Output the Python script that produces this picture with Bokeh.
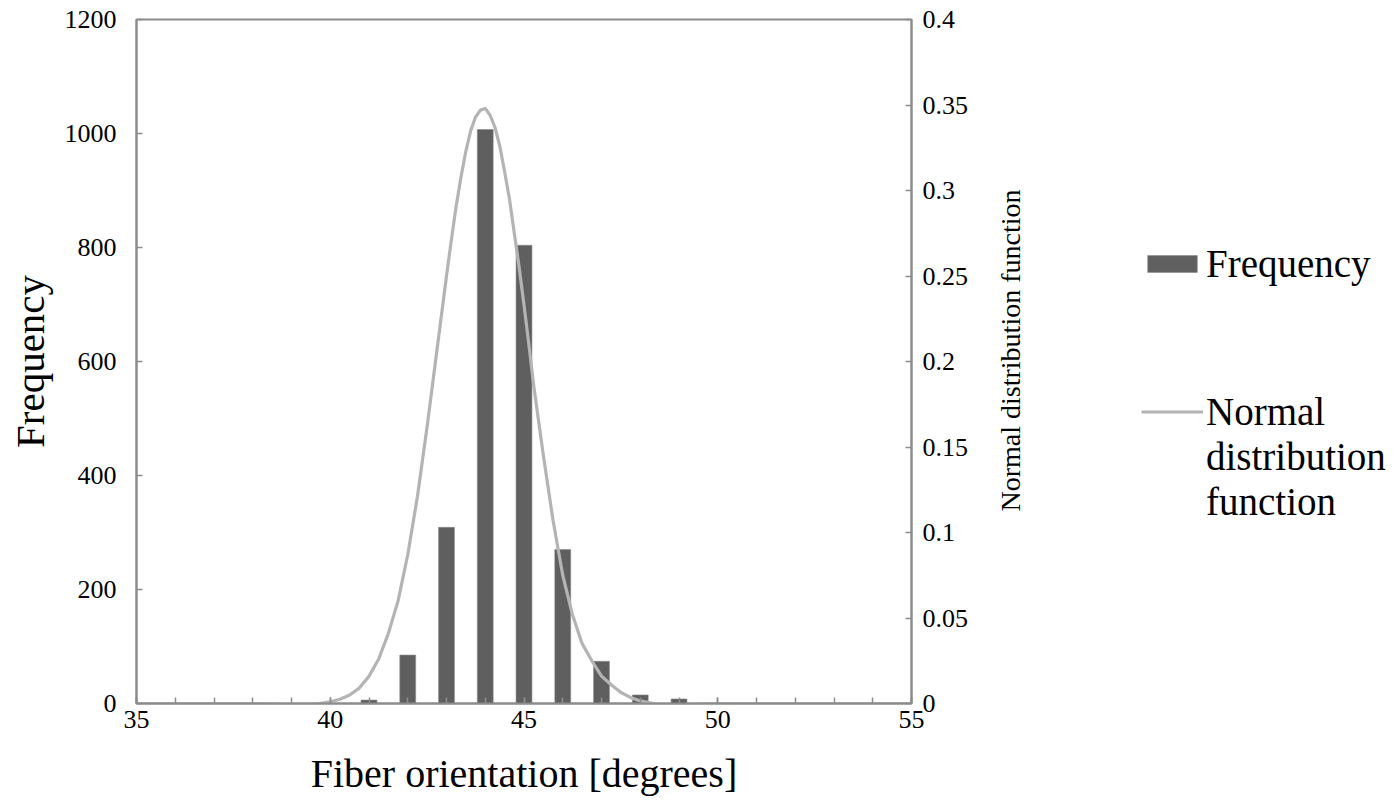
import math
from bokeh.plotting import figure
from bokeh.layouts import row
from bokeh.models import (Range1d, LinearAxis, Legend, LegendItem, SingleIntervalTicker,
                          FixedTicker, NumeralTickFormatter, Label)
from bokeh.embed import file_html
from bokeh.resources import INLINE

# ---- data ----
orientation = [41, 42, 43, 44, 45, 46, 47, 48, 49]
frequency = [6, 85, 309, 1007, 804, 270, 74, 15, 8]

curve_x = [35, 36, 37, 38, 38.5, 39, 39.5, 40, 40.25, 40.5, 40.75, 41, 41.25, 41.5, 41.75,
           42, 42.25, 42.5, 42.75, 42.875, 43, 43.125, 43.25, 43.375, 43.5, 43.625, 43.75,
           43.875, 44, 44.125, 44.25, 44.375, 44.5, 44.625, 44.75, 44.875, 45, 45.125,
           45.25, 45.5, 45.75, 46, 46.25, 46.5, 46.75, 47, 47.25, 47.5, 47.75, 48, 48.5,
           49, 49.5, 50, 51, 52, 53, 54, 55]
curve_y = [0, 0, 0, 0, -0.0003, -0.0008, -0.0008, 0.001, 0.0025, 0.005, 0.009, 0.016,
           0.026, 0.041, 0.060, 0.087, 0.121, 0.162, 0.206, 0.228, 0.250, 0.271, 0.291,
           0.308, 0.323, 0.335, 0.343, 0.347, 0.348, 0.344, 0.337, 0.326, 0.311, 0.295,
           0.275, 0.255, 0.233, 0.210, 0.186, 0.145, 0.107, 0.075, 0.052, 0.035, 0.025,
           0.016, 0.011, 0.0065, 0.0035, 0.0015, -0.0008, -0.0008, -0.0003, 0, 0, 0, 0,
           0, 0]

right_ticks = [0, 0.05, 0.1, 0.15, 0.2, 0.25, 0.3, 0.35, 0.4]

FONT = "Liberation Serif"
AXIS_COLOR = "#8c8c8c"
BAR_FILL = "#5f5f5f"
BAR_LINE = "#8a8a8a"
CURVE_COLOR = "#b4b4b4"

W1 = 990
H = 805
FRAME_TOP = 19
FRAME_BOTTOM = 703

p = figure(width=W1, height=H, output_backend="svg", toolbar_location=None,
           x_range=Range1d(35, 55), y_range=Range1d(0, 1200),
           min_border_left=136, min_border_right=W1 - 911, min_border_top=FRAME_TOP,
           min_border_bottom=H - FRAME_BOTTOM)
p.extra_y_ranges = {"pdf": Range1d(0, 0.4)}
p.xgrid.visible = False
p.ygrid.visible = False
p.outline_line_color = AXIS_COLOR
p.outline_line_width = 2
p.background_fill_color = "white"
p.border_fill_color = "white"

bars = p.vbar(x=orientation, top=frequency, width=0.41, bottom=0,
              fill_color=BAR_FILL, line_color=BAR_LINE, line_width=0.6)
curve = p.line(x=curve_x, y=curve_y, y_range_name="pdf",
               line_color=CURVE_COLOR, line_width=3.2, line_join="round")

# x axis
xa = p.xaxis[0]
xa.ticker = SingleIntervalTicker(interval=5, num_minor_ticks=5)
xa.axis_label = "Fiber orientation [degrees]"

# left axis
ya = p.yaxis[0]
ya.ticker = SingleIntervalTicker(interval=200)
ya.axis_label = "Frequency"

# right axis
ra = LinearAxis(y_range_name="pdf", ticker=FixedTicker(ticks=right_ticks),
                formatter=NumeralTickFormatter(format="0.[00]"))
p.add_layout(ra, "right")

for ax in (xa, ya, ra):
    ax.axis_line_color = AXIS_COLOR
    ax.axis_line_width = 2
    ax.major_tick_line_color = AXIS_COLOR
    ax.major_tick_line_width = 1.5
    ax.minor_tick_line_color = AXIS_COLOR if ax is xa else None
    ax.minor_tick_line_width = 1.5
    ax.major_tick_out = 0
    ax.major_tick_in = 6
    ax.minor_tick_out = 0
    ax.minor_tick_in = 6
    ax.major_label_text_font = FONT
    ax.major_label_text_font_size = "26px"
    ax.major_label_text_color = "black"
    ax.axis_label_text_font = FONT
    ax.axis_label_text_font_style = "normal"
    ax.axis_label_text_color = "black"

xa.major_label_standoff = 7
xa.axis_label_text_font_size = "40px"
xa.axis_label_standoff = 20
ya.major_label_standoff = 20
ya.axis_label_text_font_size = "41px"
ya.axis_label_standoff = 9
ra.major_label_standoff = 11

# ---- side panel: right-axis title and legend ----
# (its frame is aligned with the main frame: rows 19..703, columns 990..1398)
W2 = 1398 - W1
FH = FRAME_BOTTOM - FRAME_TOP
side = figure(width=W2, height=H, output_backend="svg", toolbar_location=None,
              x_range=Range1d(0, W2), y_range=Range1d(0, FH),
              x_axis_type=None, y_axis_type=None,
              min_border_left=0, min_border_right=0, min_border_top=FRAME_TOP,
              min_border_bottom=H - FRAME_BOTTOM)
side.xgrid.visible = False
side.ygrid.visible = False
side.outline_line_color = None
side.background_fill_color = "white"
side.border_fill_color = "white"

side.add_layout(Label(x=1010 - W1, y=FRAME_BOTTOM - 350, text="Normal distribution function",
                      angle=math.pi / 2, text_align="center", text_baseline="middle",
                      text_font=FONT, text_font_size="28px", text_color="black"))

# legend proxies: the same series with the same styles, not displayed in this panel
leg_bar = side.vbar(x=orientation, top=frequency, width=0.41, fill_color=BAR_FILL,
                    line_color=BAR_LINE, line_width=0.6, visible=False)
leg_line = side.line(x=curve_x, y=curve_y, line_color=CURVE_COLOR, line_width=3.2,
                     visible=False)

legend = Legend(items=[LegendItem(label="Frequency", renderers=[leg_bar]),
                       LegendItem(label="\n\nNormal\ndistribution\nfunction",
                                  renderers=[leg_line])],
                location=(1141 - W1, 179), border_line_color=None, background_fill_alpha=0,
                inactive_fill_alpha=0,
                label_text_font=FONT, label_text_font_size="39px", label_text_color="black",
                glyph_width=62, glyph_height=21, spacing=13, padding=0, margin=0,
                label_standoff=3)
side.add_layout(legend)

open("out.html", "w").write(file_html(row(p, side), INLINE))
